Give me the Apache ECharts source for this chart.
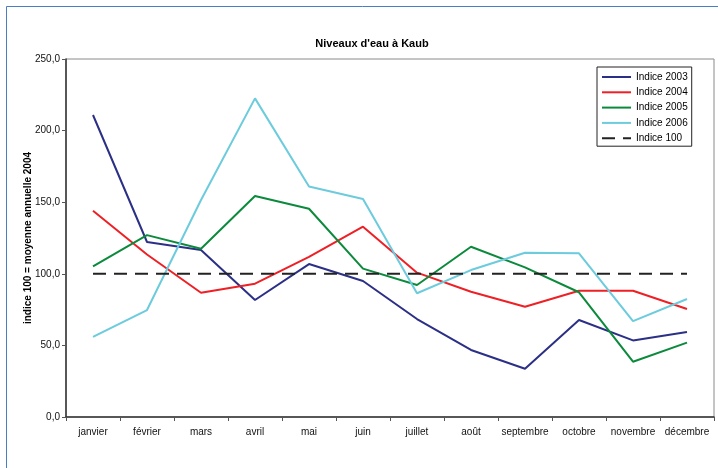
<!DOCTYPE html>
<html>
<head>
<meta charset="utf-8">
<script src="https://cdn.jsdelivr.net/npm/echarts@6/dist/echarts.min.js"></script>
<style>
html,body{margin:0;padding:0;background:#fff;}
#chart{width:718px;height:468px;}
</style>
</head>
<body>
<div id="chart"></div>
<script>
var months = ['janvier','février','mars','avril','mai','juin','juillet','août','septembre','octobre','novembre','décembre'];
var indice2003 = [210.9, 122.2, 116.6, 81.7, 106.8, 95.0, 68.4, 46.8, 33.7, 67.7, 53.5, 59.4];
var indice2004 = [144.0, 113.5, 86.8, 93.1, 111.8, 132.9, 100.8, 87.5, 77.0, 88.2, 88.2, 75.4];
var indice2005 = [105.2, 127.0, 117.5, 154.3, 145.4, 103.6, 92.2, 118.9, 104.5, 87.1, 38.6, 51.9];
var indice2006 = [56.0, 74.7, 151.5, 222.5, 161.0, 152.2, 86.4, 102.6, 114.7, 114.3, 67.0, 82.4];
var indice100 = [100, 100, 100, 100, 100, 100, 100, 100, 100, 100, 100, 100];
var seriesNames = ['Indice 2003','Indice 2004','Indice 2005','Indice 2006','Indice 100'];

var font = 'Liberation Sans, Arial, sans-serif';
var chart = echarts.init(document.getElementById('chart'), null, {renderer:'canvas'});

function lineSeries(name, data, color, dash) {
  return {
    name: name, type: 'line', data: data, symbol: 'none', animation: false,
    lineStyle: { color: color, width: 2, type: dash || 'solid' },
    itemStyle: { color: color }
  };
}

chart.setOption({
  backgroundColor: '#fff',
  animation: false,
  graphic: [{
    type: 'rect', left: 4, top: 4,
    shape: { width: 800, height: 600 },
    style: { fill: 'none', stroke: '#4a7ec4', lineWidth: 1 },
    z: -1
  }],
  title: {
    text: 'Niveaux d\'eau à Kaub',
    left: 367, top: 33, textAlign: 'center',
    textStyle: { fontFamily: font, fontSize: 11, fontWeight: 'bold', color: '#000' }
  },
  grid: {
    left: 66, right: 4, top: 59, bottom: 51,
    show: true, borderColor: '#8a8a8a', borderWidth: 1, backgroundColor: '#fff'
  },
  legend: {
    orient: 'vertical', left: 597, top: 67,
    data: seriesNames,
    itemWidth: 29, itemHeight: 10, itemGap: 5.3,
    padding: [5, 4, 3, 4],
    borderColor: '#222', borderWidth: 1, backgroundColor: '#fff',
    itemStyle: { opacity: 0 },
    textStyle: { fontFamily: font, fontSize: 10, color: '#000' }
  },
  xAxis: {
    type: 'category', data: months, boundaryGap: true,
    axisLine: { lineStyle: { color: '#333', width: 1.5 } },
    axisTick: { show: true, length: 4, lineStyle: { color: '#555' } },
    axisLabel: { fontFamily: font, fontSize: 10, color: '#111', margin: 10, interval: 0 },
    splitLine: { show: false }
  },
  yAxis: {
    type: 'value', min: 0, max: 250, interval: 50,
    name: 'indice 100 = moyenne annuelle 2004',
    nameLocation: 'middle', nameGap: 33, nameMoveOverlap: false,
    nameTextStyle: { fontFamily: font, fontSize: 10, fontWeight: 'bold', color: '#000' },
    axisLine: { show: true, lineStyle: { color: '#333', width: 1.5 } },
    axisTick: { show: true, length: 4, lineStyle: { color: '#555' } },
    axisLabel: {
      fontFamily: font, fontSize: 10, color: '#111', margin: 6,
      formatter: function (v) { return v.toFixed(1).replace('.', ','); }
    },
    splitLine: { show: false }
  },
  series: [
    lineSeries('Indice 2003', indice2003, '#2b2f86'),
    lineSeries('Indice 2004', indice2004, '#ee2025'),
    lineSeries('Indice 2005', indice2005, '#0b8a3c'),
    lineSeries('Indice 2006', indice2006, '#6ccbdc'),
    lineSeries('Indice 100', indice100, '#222222', [13, 8])
  ]
});
</script>
</body>
</html>
